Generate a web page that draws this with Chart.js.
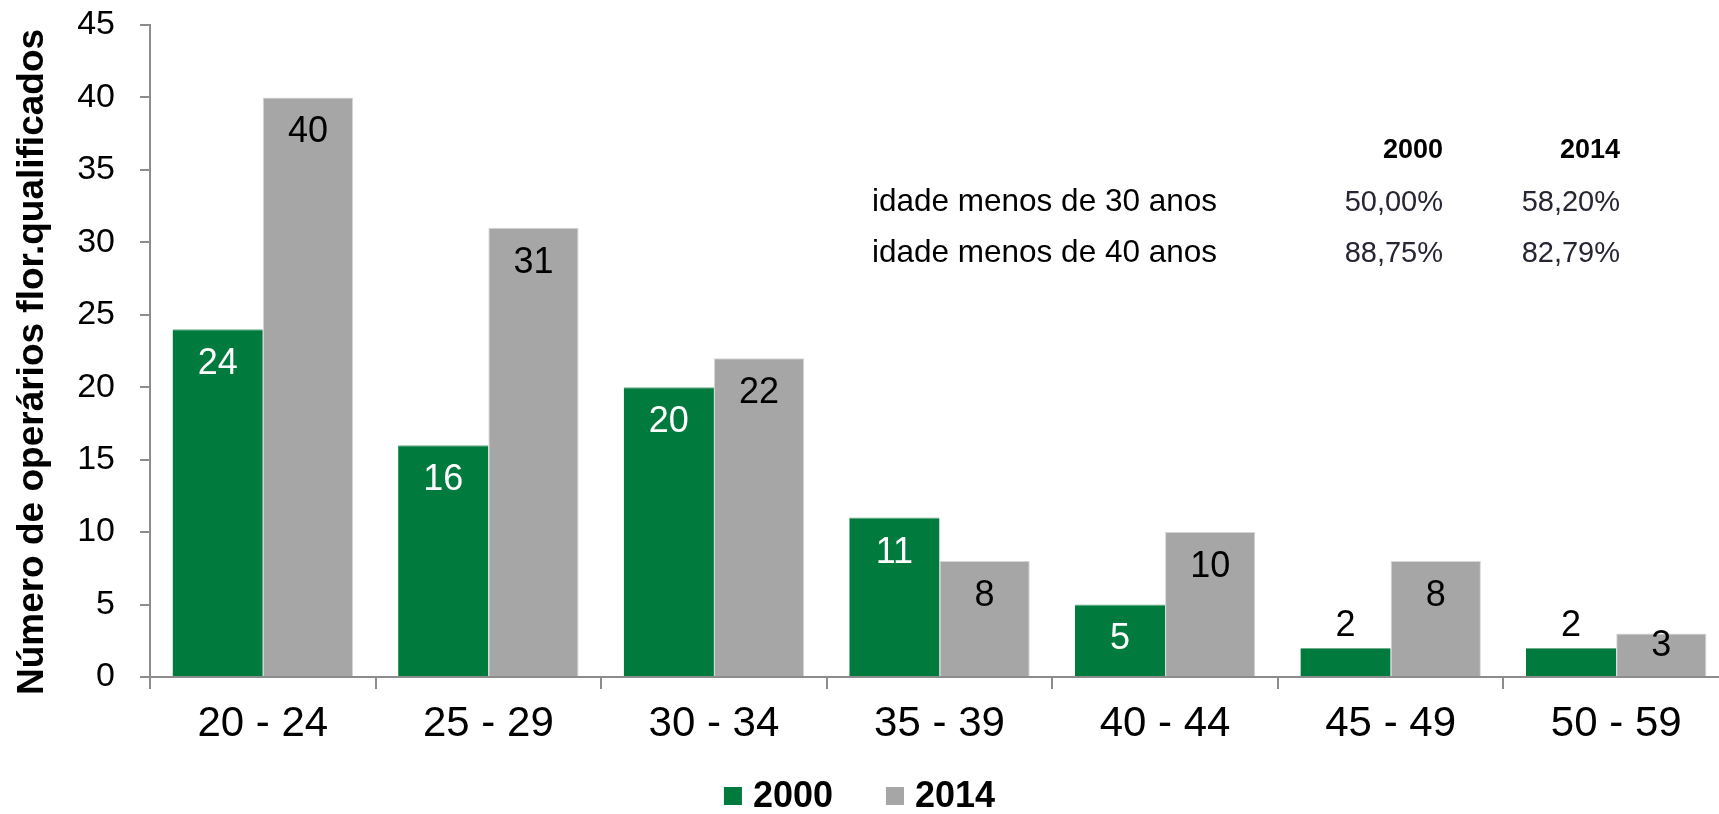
<!DOCTYPE html>
<html>
<head>
<meta charset="utf-8">
<script src="https://cdn.jsdelivr.net/npm/chart.js@4"></script>
<style>
html,body{margin:0;padding:0;overflow:hidden;background:#fff;width:1719px;height:814px;position:relative}
#c{position:absolute;left:0;top:0}
.t{position:absolute;font-family:"Liberation Sans",Arial,sans-serif;white-space:nowrap;color:#000}
</style>
</head>
<body>
<canvas id="c" width="1740" height="814" style="width:1740px;height:814px"></canvas>
<script>
// ---- data ----
const categories = ['20 - 24','25 - 29','30 - 34','35 - 39','40 - 44','45 - 49','50 - 59'];
const values2000 = [24,16,20,11,5,2,2];
const values2014 = [40,31,22,8,10,8,3];
const seriesNames = ['2000','2014'];
const yAxisTitle = 'Número de operários flor.qualificados';
const yMin = 0, yMax = 45, yStep = 5;
const tableHeaders = ['2000','2014'];
const tableRows = ['idade menos de 30 anos','idade menos de 40 anos'];
const table2000 = ['50,00%','88,75%'];
const table2014 = ['58,20%','82,79%'];

// ---- style ----
const FONT = '"Liberation Sans", Arial, sans-serif';
const GREEN = '#007A3D', GREY = '#A6A6A6', AXIS = '#8c8c8c';
Chart.defaults.font.family = FONT;

const valueLabels = {
  id: 'valueLabels',
  afterDatasetsDraw(chart) {
    const ctx = chart.ctx;
    ctx.save();
    ctx.font = '36px ' + FONT;
    ctx.textAlign = 'center';
    ctx.textBaseline = 'middle';
    chart.data.datasets.forEach((ds, di) => {
      chart.getDatasetMeta(di).data.forEach((bar, i) => {
        const top = bar.y, bottom = bar.base, h = bottom - top;
        let y, color = di === 0 ? '#fff' : '#000';
        if (h >= 70) y = top + 35;
        else if (h >= 40) y = bottom - 30;
        else { y = top - 22; color = '#000'; }
        ctx.fillStyle = color;
        ctx.fillText(String(ds.data[i]), bar.x, y);
      });
    });
    ctx.restore();
  }
};

// y-axis title (drawn slightly below the plot-area centre, as in the original)
const yTitlePlugin = {
  id: 'yTitle',
  afterDraw(chart) {
    const ctx = chart.ctx, a = chart.chartArea;
    ctx.save();
    ctx.font = 'bold 37px ' + FONT;
    ctx.fillStyle = '#000';
    ctx.textAlign = 'center';
    ctx.textBaseline = 'middle';
    ctx.translate(33, (a.top + a.bottom) / 2 + 11);
    ctx.rotate(-Math.PI / 2);
    ctx.fillText(yAxisTitle, 0, 0);
    ctx.restore();
  }
};

const customLegend = {
  id: 'customLegend',
  afterDraw(chart) {
    const ctx = chart.ctx;
    ctx.save();
    ctx.font = 'bold 36px ' + FONT;
    ctx.textBaseline = 'middle';
    ctx.textAlign = 'left';
    const box = 18, gapText = 11, gapItem = 53;
    const items = chart.data.datasets.map(d => ({label: d.label, color: d.backgroundColor, w: ctx.measureText(d.label).width}));
    const total = items.reduce((s, it) => s + box + gapText + it.w, 0) + gapItem * (items.length - 1);
    let x = 1719 / 2 - total / 2;
    const cy = 796;
    items.forEach(it => {
      ctx.fillStyle = it.color;
      ctx.fillRect(x, cy - box / 2, box, box);
      x += box + gapText;
      ctx.fillStyle = '#000';
      ctx.fillText(it.label, x, cy + 1);
      x += it.w + gapItem;
    });
    ctx.restore();
  }
};

new Chart(document.getElementById('c'), {
  type: 'bar',
  data: {
    labels: categories,
    datasets: [
      {label: seriesNames[0], data: values2000, backgroundColor: GREEN, borderColor: '#6fae8c', borderWidth: {top:1,left:0,right:0,bottom:0}, categoryPercentage: 0.8, barPercentage: 1.0},
      {label: seriesNames[1], data: values2014, backgroundColor: GREY, borderColor: '#d6d6d6', borderWidth: 1, categoryPercentage: 0.8, barPercentage: 1.0}
    ]
  },
  options: {
    responsive: false,
    animation: false,
    layout: {padding: {top: 25, right: 11, bottom: 77, left: 0}},
    plugins: {legend: {display: false}, tooltip: {enabled: false}},
    scales: {
      x: {
        ticks: {color: '#000', font: {size: 42}, padding: 10, maxRotation: 0, autoSkip: false},
        grid: {drawOnChartArea: false, tickLength: 12, color: AXIS, lineWidth: 2, offset: true},
        border: {color: AXIS, width: 2},
        afterFit(s) { s.height = 60; }
      },
      y: {
        min: yMin, max: yMax,
        ticks: {stepSize: yStep, color: '#000', font: {size: 34}, padding: 25},
        grid: {drawOnChartArea: false, tickLength: 10, color: AXIS, lineWidth: 2},
        border: {color: AXIS, width: 2},
        title: {display: false, text: yAxisTitle},
        afterFit(s) { s.width = 150; s.paddingTop = 0; s.paddingBottom = 0; }
      }
    }
  },
  plugins: [valueLabels, yTitlePlugin, customLegend]
});

// ---- annotation table (real text) ----
function addText(txt, opts) {
  const d = document.createElement('div');
  d.className = 't';
  d.textContent = txt;
  const fs = opts.size;
  d.style.fontSize = fs + 'px';
  d.style.lineHeight = fs + 'px';
  d.style.top = (opts.cy - fs / 2) + 'px';
  if (opts.bold) d.style.fontWeight = 'bold';
  if (opts.color) d.style.color = opts.color;
  if (opts.right !== undefined) {
    d.style.left = (opts.right - 300) + 'px';
    d.style.width = '300px';
    d.style.textAlign = 'right';
  } else {
    d.style.left = opts.left + 'px';
  }
  document.body.appendChild(d);
}
const colRight = [1443, 1620];
const rowY = [201, 252];
tableHeaders.forEach((h, i) => addText(h, {size: 27, bold: true, cy: 149, right: colRight[i]}));
tableRows.forEach((r, i) => {
  addText(r, {size: 31.5, cy: rowY[i], left: 872});
  addText(table2000[i], {size: 29, cy: rowY[i], right: colRight[0], color: '#262633'});
  addText(table2014[i], {size: 29, cy: rowY[i], right: colRight[1], color: '#262633'});
});
</script>
</body>
</html>
